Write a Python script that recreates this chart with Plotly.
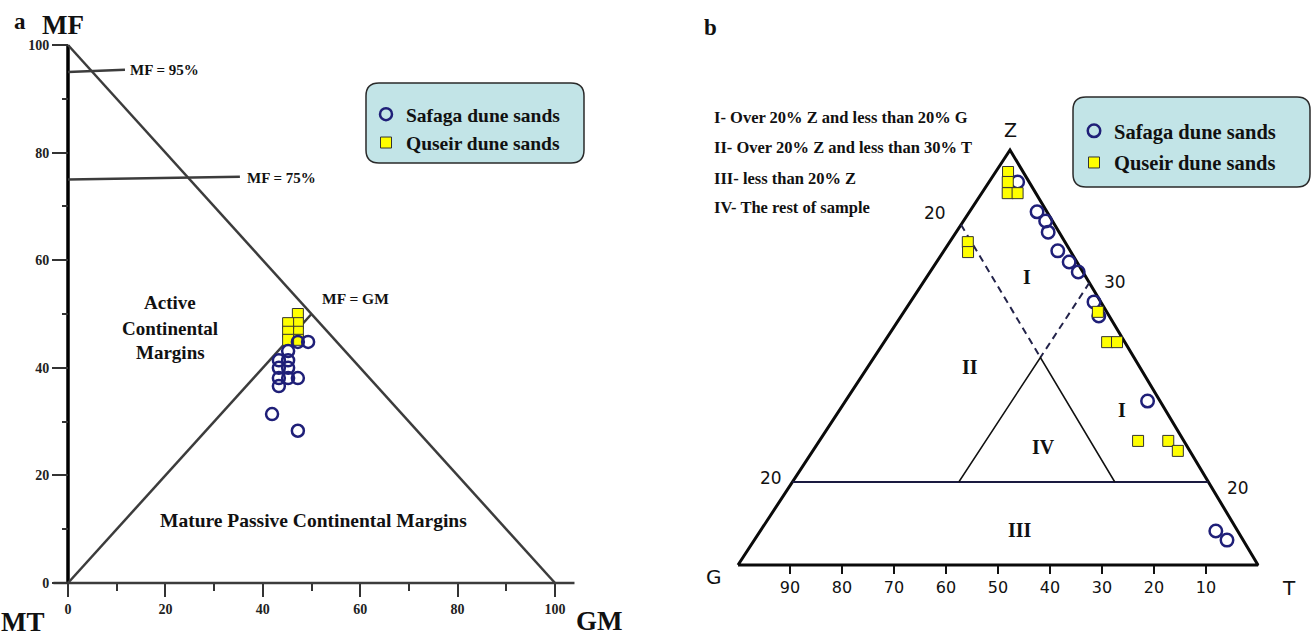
import plotly.graph_objects as go

W, H = 1312, 636

# ---------------- Panel a data (GM %, MF %) ----------------
SAFAGA_A_GM = [47.2, 49.3, 45.2, 43.3, 45.2, 43.3, 45.2, 43.3, 45.2, 47.2, 43.3, 41.9, 47.2]
SAFAGA_A_MF = [44.8, 44.8, 43.1, 41.4, 41.4, 40.0, 40.0, 38.1, 38.1, 38.1, 36.6, 31.4, 28.3]
QUSEIR_A_GM = [47.2, 47.2, 47.2, 47.2, 45.2, 45.2, 45.2]
QUSEIR_A_MF = [50.0, 48.3, 46.7, 45.2, 48.3, 46.7, 45.2]
A_TICKS_MAJOR = [0, 20, 40, 60, 80, 100]
A_TICKS_MINOR = [10, 30, 50, 70, 90]

# ---------------- Panel b data (ternary %, Z / G / T) ----------------
SAFAGA_B_Z = [92.3, 85.1, 82.9, 80.2, 75.7, 73.0, 70.6, 63.4, 60.0, 39.5, 8.2, 6.0]
SAFAGA_B_G = [2.2, 1.9, 1.3, 2.1, 2.4, 1.5, 0.9, 1.3, 2.0, 2.4, 4.2, 3.1]
SAFAGA_B_T = [5.5, 13.0, 15.8, 17.7, 21.9, 25.5, 28.5, 35.3, 38.0, 58.1, 87.6, 90.9]
QUSEIR_B_Z = [94.7, 92.3, 89.6, 89.6, 77.8, 75.4, 61.0, 53.7, 53.7, 29.9, 29.9, 27.5]
QUSEIR_B_G = [2.9, 4.1, 5.4, 3.5, 18.7, 19.8, 1.7, 3.4, 1.5, 8.8, 3.0, 2.3]
QUSEIR_B_T = [2.4, 3.6, 5.0, 6.9, 3.5, 4.8, 37.3, 42.9, 44.8, 61.3, 67.1, 70.2]
B_TICK_G = [90, 80, 70, 60, 50, 40, 30, 20, 10]
# field boundaries as drawn
Z_LINE = 20
G_LINE = 18
T_LINE = 32

SERIF = "Liberation Serif"
HAND = "DejaVu Sans"
NAVY = "#1f1f78"
YELLOW = "#ffff00"

# ---------------- geometry (pixel mapping) ----------------
A_X0, A_KX, A_Y0, A_KY = 68, 4.87, 583, 5.38
B_X0, B_KX, B_Y0, B_KY = 738, 5.2, 565, 4.15
APEX = (1010 - 738) / 520.0


def tern(z, t):
    """ternary (Z, T) -> cartesian (u, v) of panel b"""
    return t + APEX * z, z


def tern_list(zs, ts):
    pts = [tern(z, t) for z, t in zip(zs, ts)]
    return [p[0] for p in pts], [p[1] for p in pts]


def px(x, y):
    return x / W, 1 - y / H


fig = go.Figure()

# ---------------- Panel a diagram lines ----------------
def line_a(xs, ys, width=2.5, color="#3c3c3c"):
    fig.add_trace(go.Scatter(x=xs, y=ys, mode="lines", line=dict(color=color, width=width),
                             showlegend=False, hoverinfo="skip", xaxis="x", yaxis="y"))

line_a([0, 0], [0, 100], width=3.5, color="#000")
line_a([-3, 104], [0, 0])
line_a([0, 100], [100, 0])
line_a([0, 50], [0, 50])
line_a([0, 11.7], [95, 95.4])
line_a([0, 35.3], [75, 75.5])

# ---------------- Panel a data ----------------
fig.add_trace(go.Scatter(x=QUSEIR_A_GM, y=QUSEIR_A_MF, mode="markers", name="Quseir dune sands",
                         marker=dict(symbol="square", size=11, color=YELLOW, line=dict(color="#333", width=1)),
                         xaxis="x", yaxis="y", legend="legend", legendrank=2, legendgroup="aq"))
fig.add_trace(go.Scatter(x=SAFAGA_A_GM, y=SAFAGA_A_MF, mode="markers", name="Safaga dune sands",
                         marker=dict(symbol="circle-open", size=12, color=NAVY, line=dict(width=2.5)),
                         xaxis="x", yaxis="y", legend="legend", legendrank=1, legendgroup="as"))

# ---------------- Panel b diagram lines ----------------
def line_b(zs, ts, width=2, color="#000", dash="solid"):
    us, vs = tern_list(zs, ts)
    fig.add_trace(go.Scatter(x=us, y=vs, mode="lines", line=dict(color=color, width=width, dash=dash),
                             showlegend=False, hoverinfo="skip", xaxis="x2", yaxis="y2"))

line_b([0, 100, 0, 0], [0, 0, 100, 0], width=3, color="#0a0a0a")
line_b([Z_LINE, Z_LINE], [0, 100 - Z_LINE], width=2.2, color="#1a1a40")
zc = 100 - G_LINE - T_LINE
line_b([100 - G_LINE, zc], [0, T_LINE], width=2, color="#23234a", dash="7px,5px")
line_b([100 - T_LINE, zc], [T_LINE, T_LINE], width=2, color="#23234a", dash="7px,5px")
line_b([Z_LINE, zc, Z_LINE], [T_LINE, T_LINE, 100 - G_LINE - Z_LINE], width=1.5, color="#111")

# ---------------- Panel b data ----------------
u, v = tern_list(SAFAGA_B_Z, SAFAGA_B_T)
fig.add_trace(go.Scatter(x=u, y=v, mode="markers", name="Safaga dune sands",
                         customdata=list(zip(SAFAGA_B_Z, SAFAGA_B_G, SAFAGA_B_T)),
                         hovertemplate="Z %{customdata[0]}%<br>G %{customdata[1]}%<br>T %{customdata[2]}%<extra></extra>",
                         marker=dict(symbol="circle-open", size=12.5, color=NAVY, line=dict(width=2.5)),
                         xaxis="x2", yaxis="y2", legend="legend2", legendgroup="bs"))
u, v = tern_list(QUSEIR_B_Z, QUSEIR_B_T)
fig.add_trace(go.Scatter(x=u, y=v, mode="markers", name="Quseir dune sands",
                         customdata=list(zip(QUSEIR_B_Z, QUSEIR_B_G, QUSEIR_B_T)),
                         hovertemplate="Z %{customdata[0]}%<br>G %{customdata[1]}%<br>T %{customdata[2]}%<extra></extra>",
                         marker=dict(symbol="square", size=11, color=YELLOW, line=dict(color="#333", width=1)),
                         xaxis="x2", yaxis="y2", legend="legend2", legendgroup="bq"))

# ---------------- annotations ----------------
ann = []


def text(x, y, s, size, family=SERIF, weight="bold", xanchor="center", color="#111"):
    fx, fy = px(x, y)
    ann.append(dict(x=fx, y=fy, xref="paper", yref="paper", text=s, showarrow=False,
                    xanchor=xanchor, yanchor="middle",
                    font=dict(family=family, size=size, weight=weight, color=color)))

# panel a
text(20, 22, "a", 23)
text(63, 25, "MF", 27)
text(23, 622, "MT", 27)
text(599, 621, "GM", 27)
text(128, 70, "MF = 95%", 15, xanchor="left")
text(245, 178, "MF = 75%", 15, xanchor="left")
text(320, 298, "MF = GM", 15.5, xanchor="left")
text(170, 303, "Active", 19)
text(170, 328, "Continental", 19)
text(170, 352, "Margins", 19)
text(313, 520, "Mature Passive Continental Margins", 19.5)

# panel b
text(710, 28, "b", 23)
text(712, 117, "I- Over 20% Z and less than 20% G", 16.5, xanchor="left")
text(712, 147, "II- Over 20% Z and less than 30% T", 16.5, xanchor="left")
text(712, 178, "III- less than 20% Z", 16.5, xanchor="left")
text(712, 208, "IV- The rest of sample", 16.5, xanchor="left")
text(1010, 130, "Z", 19, family=HAND, weight="normal")
text(714, 577, "G", 20, family=HAND, weight="normal")
text(1289, 588, "T", 20, family=HAND, weight="normal")
text(935, 213, "20", 17, family=HAND, weight="normal")
text(1115, 282, "30", 17, family=HAND, weight="normal")
text(771, 478, "20", 17, family=HAND, weight="normal")
text(1238, 488, "20", 17, family=HAND, weight="normal")
text(1027, 277, "I", 20, weight="bold")
text(970, 367, "II", 20, weight="bold")
text(1122, 410, "I", 20, weight="bold")
text(1043, 447, "IV", 20, weight="bold")
text(1020, 530, "III", 20, weight="bold")


# ---------------- legend boxes ----------------
def rrect(x0, y0, x1, y1, r):
    f = lambda x, y: "%.5f,%.5f" % px(x, y)
    return ("M " + f(x0 + r, y0) + " L " + f(x1 - r, y0) + " Q " + f(x1, y0) + " " + f(x1, y0 + r)
            + " L " + f(x1, y1 - r) + " Q " + f(x1, y1) + " " + f(x1 - r, y1)
            + " L " + f(x0 + r, y1) + " Q " + f(x0, y1) + " " + f(x0, y1 - r)
            + " L " + f(x0, y0 + r) + " Q " + f(x0, y0) + " " + f(x0 + r, y0) + " Z")

shapes = [
    dict(type="path", path=rrect(366, 83, 584, 163, 13), xref="paper", yref="paper",
         fillcolor="#c2e4e7", line=dict(color="#2a2a2a", width=1.5), layer="below"),
    dict(type="path", path=rrect(1073, 97, 1310, 187, 13), xref="paper", yref="paper",
         fillcolor="#c2e4e7", line=dict(color="#2a2a2a", width=1.5), layer="below"),
]

LEG_FONT = dict(family=SERIF, size=19.5, weight="bold", color="#111")

tickfont_a = dict(family=SERIF, size=14, weight="bold", color="#222")

fig.update_layout(
    width=W, height=H,
    margin=dict(l=0, r=0, t=0, b=0),
    paper_bgcolor="white", plot_bgcolor="rgba(0,0,0,0)",
    showlegend=True,
    xaxis=dict(domain=[0, 0.5], range=[-A_X0 / A_KX, (656 - A_X0) / A_KX],
               anchor="free", position=(H - A_Y0) / H, side="bottom",
               showgrid=False, zeroline=False, showline=False,
               tickvals=A_TICKS_MAJOR, ticks="outside", ticklen=13, tickwidth=1.5, tickcolor="#333",
               minor=dict(tickvals=A_TICKS_MINOR, ticks="outside", ticklen=7, tickwidth=1.5, tickcolor="#333"),
               tickfont=tickfont_a, fixedrange=True),
    yaxis=dict(domain=[0, 1], range=[-(H - A_Y0) / A_KY, A_Y0 / A_KY],
               anchor="free", position=A_X0 / W, side="left",
               showgrid=False, zeroline=False, showline=False,
               tickvals=A_TICKS_MAJOR, ticks="outside", ticklen=16, tickwidth=1.5, tickcolor="#333",
               minor=dict(tickvals=A_TICKS_MINOR, ticks="outside", ticklen=6, tickwidth=1.5, tickcolor="#333"),
               tickfont=tickfont_a, fixedrange=True),
    xaxis2=dict(domain=[660 / W, 1], range=[(660 - B_X0) / B_KX, (W - B_X0) / B_KX],
                anchor="free", position=(H - B_Y0) / H, side="bottom",
                showgrid=False, zeroline=False, showline=False,
                tickvals=[100 - g for g in B_TICK_G], ticktext=[str(g) for g in B_TICK_G],
                ticks="outside", ticklen=8, tickwidth=2, tickcolor="#111",
                tickfont=dict(family=HAND, size=16, color="#111"), fixedrange=True),
    yaxis2=dict(domain=[0, 1], range=[-(H - B_Y0) / B_KY, B_Y0 / B_KY], anchor="x2",
                visible=False, fixedrange=True),
    legend=dict(x=366 / W, y=1 - 95 / H, xanchor="left", yanchor="top",
                bgcolor="rgba(0,0,0,0)", borderwidth=0, font=LEG_FONT,
                traceorder="grouped", tracegroupgap=0),
    legend2=dict(x=1074 / W, y=1 - 111 / H, xanchor="left", yanchor="top",
                 bgcolor="rgba(0,0,0,0)", borderwidth=0, font=dict(LEG_FONT, size=20.5),
                 traceorder="grouped", tracegroupgap=2),
    annotations=ann,
    shapes=shapes,
)

fig.write_html("out.html", config={"displayModeBar": False},
               post_script="document.body.style.margin='0';document.body.style.overflow='hidden';")
